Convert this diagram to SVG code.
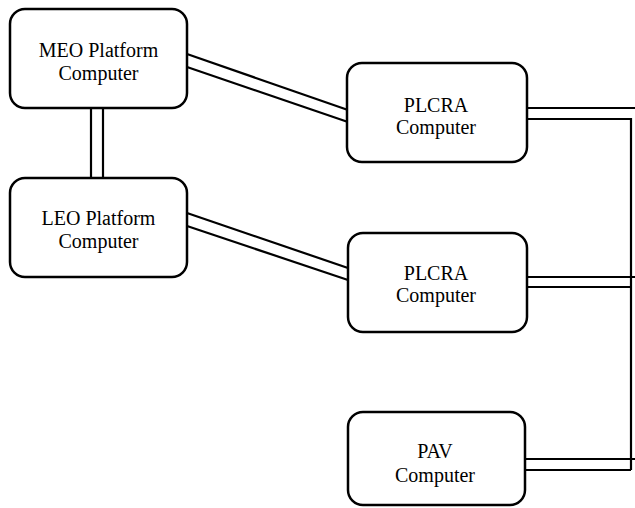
<svg xmlns="http://www.w3.org/2000/svg" width="635" height="508" viewBox="0 0 635 508">
<style>
.box{fill:#fff;stroke:#000;stroke-width:2.5}
.ln{fill:none;stroke:#000;stroke-width:2.2}
text{font-family:"Liberation Serif","Times New Roman",serif;font-size:20px;fill:#000;text-anchor:middle}
</style>
<rect width="635" height="508" fill="#fff"/>
<g id="connectors">
<line class="ln" x1="91" y1="108" x2="91" y2="178"/>
<line class="ln" x1="103" y1="108" x2="103" y2="178"/>
<line class="ln" x1="187" y1="54" x2="348" y2="110"/>
<line class="ln" x1="187" y1="67" x2="348" y2="122"/>
<line class="ln" x1="187" y1="213" x2="348" y2="268"/>
<line class="ln" x1="187" y1="226" x2="348" y2="280"/>
<line class="ln" x1="527" y1="108" x2="635" y2="108"/>
<polyline class="ln" points="527,119 631,119 631,470"/>
<line class="ln" x1="527" y1="277" x2="635" y2="277"/>
<line class="ln" x1="527" y1="287" x2="631" y2="287"/>
<line class="ln" x1="525" y1="459" x2="635" y2="459"/>
<line class="ln" x1="525" y1="470" x2="631" y2="470"/>
</g>
<g id="meo">
<rect class="box" x="10" y="9" width="177" height="99" rx="15"/>
<text x="98.5" y="57">MEO Platform</text>
<text x="98.5" y="80">Computer</text>
</g>
<g id="leo">
<rect class="box" x="10" y="178" width="177" height="99" rx="15"/>
<text x="98.5" y="225">LEO Platform</text>
<text x="98.5" y="248">Computer</text>
</g>
<g id="plcra1">
<rect class="box" x="347" y="63" width="180" height="99" rx="15"/>
<text x="436" y="112">PLCRA</text>
<text x="436" y="134">Computer</text>
</g>
<g id="plcra2">
<rect class="box" x="348" y="233" width="179" height="99" rx="15"/>
<text x="436" y="280">PLCRA</text>
<text x="436" y="302">Computer</text>
</g>
<g id="pav">
<rect class="box" x="348" y="412" width="177" height="93" rx="15"/>
<text x="435" y="458">PAV</text>
<text x="435" y="482">Computer</text>
</g>
</svg>
